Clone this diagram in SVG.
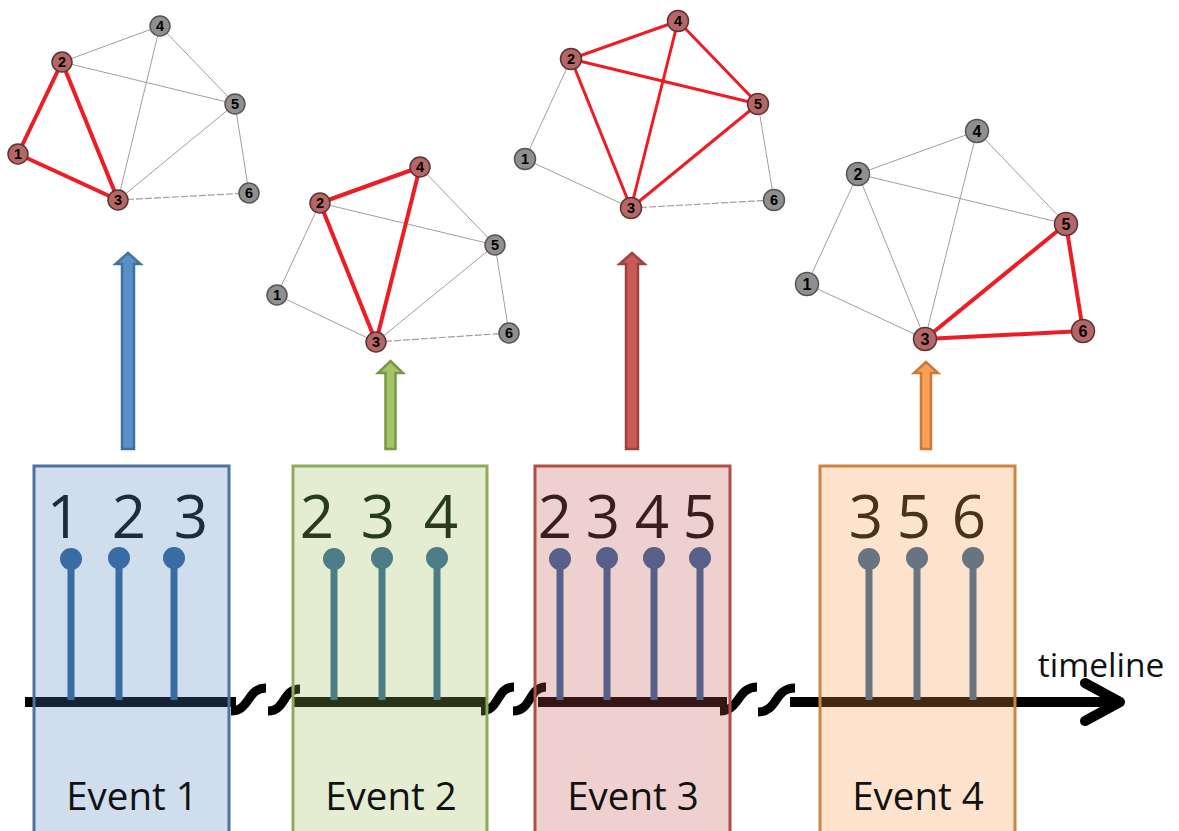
<svg xmlns="http://www.w3.org/2000/svg" width="1179" height="831" viewBox="0 0 1179 831">
<style>
.e{stroke:#a89a9c;stroke-width:1;fill:none}
.ed{stroke:#a89a9c;stroke-width:1.2;fill:none;stroke-dasharray:7 2}
.r{stroke:#ee1c24;stroke-width:4;fill:none;stroke-linecap:round}
.nr{fill:#b56767;stroke:#5a3434;stroke-width:1.5}
.ng{fill:#8f8f8f;stroke:#555;stroke-width:1.5}
.nl{font-family:"Liberation Sans",Arial,sans-serif;font-weight:bold;font-size:14.5px;fill:#000;text-anchor:middle}
.tl{stroke:#000;stroke-width:10;fill:none}
.sq{stroke:#000;stroke-width:9;fill:none}
.dig{font-family:"Open Sans",sans-serif;font-size:60px;text-anchor:middle}
.ev{font-family:"Open Sans",sans-serif;font-size:38.5px;fill:#111;text-anchor:middle}
</style>

<!-- Graph 1 -->
<g id="graph1">
<line class="e" x1="62" y1="62" x2="160" y2="26"/>
<line class="e" x1="62" y1="62" x2="235" y2="104"/>
<line class="e" x1="160" y1="26" x2="235" y2="104"/>
<line class="e" x1="160" y1="26" x2="118" y2="200"/>
<line class="e" x1="235" y1="104" x2="118" y2="200"/>
<line class="e" x1="235" y1="104" x2="249" y2="193"/>
<line class="ed" x1="118" y1="200" x2="249" y2="193"/>
<line class="r" x1="18" y1="154" x2="62" y2="62"/>
<line class="r" x1="62" y1="62" x2="118" y2="200"/>
<line class="r" x1="18" y1="154" x2="118" y2="200"/>
<circle class="ng" cx="160" cy="26" r="10"/><text class="nl" x="160" y="31">4</text>
<circle class="nr" cx="62" cy="62" r="10"/><text class="nl" x="62" y="67">2</text>
<circle class="ng" cx="235" cy="104" r="10"/><text class="nl" x="235" y="109">5</text>
<circle class="nr" cx="18" cy="154" r="10"/><text class="nl" x="18" y="159">1</text>
<circle class="nr" cx="118" cy="200" r="10"/><text class="nl" x="118" y="205">3</text>
<circle class="ng" cx="249" cy="193" r="10"/><text class="nl" x="249" y="198">6</text>
</g>

<!-- Graph 2 -->
<g id="graph2">
<line class="e" x1="320" y1="203" x2="495" y2="245"/>
<line class="e" x1="420" y1="167" x2="495" y2="245"/>
<line class="e" x1="320" y1="203" x2="277" y2="295"/>
<line class="e" x1="277" y1="295" x2="376" y2="342"/>
<line class="e" x1="495" y1="245" x2="376" y2="342"/>
<line class="e" x1="495" y1="245" x2="509" y2="333"/>
<line class="ed" x1="376" y1="342" x2="509" y2="333"/>
<line class="r" x1="320" y1="203" x2="420" y2="167"/>
<line class="r" x1="320" y1="203" x2="376" y2="342"/>
<line class="r" x1="420" y1="167" x2="376" y2="342"/>
<circle class="nr" cx="420" cy="167" r="10"/><text class="nl" x="420" y="172">4</text>
<circle class="nr" cx="320" cy="203" r="10"/><text class="nl" x="320" y="208">2</text>
<circle class="ng" cx="495" cy="245" r="10"/><text class="nl" x="495" y="250">5</text>
<circle class="ng" cx="277" cy="295" r="10"/><text class="nl" x="277" y="300">1</text>
<circle class="nr" cx="376" cy="342" r="10"/><text class="nl" x="376" y="347">3</text>
<circle class="ng" cx="509" cy="333" r="10"/><text class="nl" x="509" y="338">6</text>
</g>

<!-- Graph 3 -->
<g id="graph3">
<line class="e" x1="571" y1="59" x2="525" y2="159"/>
<line class="e" x1="525" y1="159" x2="631" y2="208"/>
<line class="e" x1="758" y1="104" x2="774" y2="200"/>
<line class="ed" x1="631" y1="208" x2="774" y2="200"/>
<line class="r" style="stroke-width:3" x1="571" y1="59" x2="678" y2="21"/>
<line class="r" style="stroke-width:3" x1="571" y1="59" x2="758" y2="104"/>
<line class="r" style="stroke-width:3" x1="571" y1="59" x2="631" y2="208"/>
<line class="r" style="stroke-width:3" x1="678" y1="21" x2="631" y2="208"/>
<line class="r" style="stroke-width:3" x1="678" y1="21" x2="758" y2="104"/>
<line class="r" style="stroke-width:3" x1="758" y1="104" x2="631" y2="208"/>
<circle class="nr" cx="678" cy="21" r="10.5"/><text class="nl" x="678" y="26">4</text>
<circle class="nr" cx="571" cy="59" r="10.5"/><text class="nl" x="571" y="64">2</text>
<circle class="nr" cx="758" cy="104" r="10.5"/><text class="nl" x="758" y="109">5</text>
<circle class="ng" cx="525" cy="159" r="10.5"/><text class="nl" x="525" y="164">1</text>
<circle class="nr" cx="631" cy="208" r="10.5"/><text class="nl" x="631" y="213">3</text>
<circle class="ng" cx="774" cy="200" r="10.5"/><text class="nl" x="774" y="205">6</text>
</g>

<!-- Graph 4 -->
<g id="graph4">
<line class="e" x1="858" y1="174" x2="977" y2="131"/>
<line class="e" x1="858" y1="174" x2="1066" y2="224"/>
<line class="e" x1="977" y1="131" x2="1066" y2="224"/>
<line class="e" x1="977" y1="131" x2="925" y2="339"/>
<line class="e" x1="858" y1="174" x2="807" y2="284"/>
<line class="e" x1="858" y1="174" x2="925" y2="339"/>
<line class="e" x1="807" y1="284" x2="925" y2="339"/>
<line class="r" x1="925" y1="339" x2="1066" y2="224"/>
<line class="r" x1="1066" y1="224" x2="1083" y2="331"/>
<line class="r" x1="925" y1="339" x2="1083" y2="331"/>
<circle class="ng" cx="977" cy="131" r="11.5"/><text class="nl" x="977" y="137" style="font-size:16px">4</text>
<circle class="ng" cx="858" cy="174" r="11.5"/><text class="nl" x="858" y="180" style="font-size:16px">2</text>
<circle class="nr" cx="1066" cy="224" r="11.5"/><text class="nl" x="1066" y="230" style="font-size:16px">5</text>
<circle class="ng" cx="807" cy="284" r="11.5"/><text class="nl" x="807" y="290" style="font-size:16px">1</text>
<circle class="nr" cx="925" cy="339" r="11.5"/><text class="nl" x="925" y="345" style="font-size:16px">3</text>
<circle class="nr" cx="1083" cy="331" r="11.5"/><text class="nl" x="1083" y="337" style="font-size:16px">6</text>
</g>

<!-- Connectors: block arrows, timeline -->
<g id="connectors">
<path d="M122 449 V264 H115.5 L128 253 L140.5 264 H134 V449 Z" fill="#5b8fcc" stroke="#41719c" stroke-width="2.5"/>
<path d="M385.5 449 V373 H378 L390.5 361 L403 373 H395.5 V449 Z" fill="#a5c468" stroke="#789845" stroke-width="2.5"/>
<path d="M626 449 V264 H619.5 L632 253 L644.5 264 H638 V449 Z" fill="#c85a57" stroke="#9a4340" stroke-width="2.5"/>
<path d="M921 449 V373 H914 L926 362 L938 373 H931 V449 Z" fill="#f9a055" stroke="#c97a3a" stroke-width="2.5"/>

<path class="tl" d="M25 702 H236"/>
<path class="sq" d="M231 711 C250 711 247 688 266 688"/>
<path class="sq" d="M268 711 C286 711 282 689 300 689"/>
<path class="tl" d="M292 702 H487"/>
<path class="sq" d="M481 711 C500 711 496 687 514 687"/>
<path class="sq" d="M513 711 C532 711 528 687 546 687"/>
<path class="tl" d="M538 702 H727"/>
<path class="sq" d="M720 711 C740 711 737 687 757 687"/>
<path class="sq" d="M758 712 C778 712 774 688 795 688"/>
<path class="tl" d="M790 702 H1118"/>
<polyline points="1085,683 1120,702 1085,721" fill="none" stroke="#000" stroke-width="10" stroke-linecap="round" stroke-linejoin="round"/>
</g>

<text x="1101" y="677" font-family="'Open Sans',sans-serif" font-size="33.5" fill="#111" text-anchor="middle">timeline</text>

<!-- Event boxes -->
<g id="event1">
<rect x="34" y="466" width="195" height="370" fill="#4f81bd" fill-opacity="0.27" stroke="#4d72a0" stroke-width="3"/>
<g fill="#1d2b3b" class="dig"><text x="64" y="538">1</text><text x="129" y="538">2</text><text x="191" y="538">3</text></g>
<g stroke="#386ca3" stroke-width="7" fill="#386ca3">
<line x1="71" y1="560" x2="71" y2="700"/><circle cx="71" cy="559" r="11" stroke="none"/>
<line x1="119" y1="560" x2="119" y2="700"/><circle cx="119" cy="558" r="11" stroke="none"/>
<line x1="174" y1="560" x2="174" y2="700"/><circle cx="174" cy="558" r="11" stroke="none"/>
</g>
<text class="ev" x="132" y="810">Event 1</text>
</g>

<g id="event2">
<rect x="293" y="466" width="194" height="370" fill="#9bbb59" fill-opacity="0.27" stroke="#8fab58" stroke-width="3"/>
<g fill="#2a3a1d" class="dig"><text x="317" y="538">2</text><text x="378" y="538">3</text><text x="441" y="538">4</text></g>
<g stroke="#4c7d86" stroke-width="7" fill="#4c7d86">
<line x1="334" y1="560" x2="334" y2="700"/><circle cx="334" cy="559" r="11" stroke="none"/>
<line x1="382" y1="560" x2="382" y2="700"/><circle cx="382" cy="558" r="11" stroke="none"/>
<line x1="437" y1="560" x2="437" y2="700"/><circle cx="437" cy="558" r="11" stroke="none"/>
</g>
<text class="ev" x="391" y="810">Event 2</text>
</g>

<g id="event3">
<rect x="535" y="466" width="195" height="370" fill="#c0504d" fill-opacity="0.27" stroke="#ae4f4c" stroke-width="3"/>
<g fill="#3a1e1e" class="dig"><text x="555" y="538">2</text><text x="603" y="538">3</text><text x="652" y="538">4</text><text x="700" y="538">5</text></g>
<g stroke="#585f88" stroke-width="7" fill="#585f88">
<line x1="560" y1="560" x2="560" y2="700"/><circle cx="560" cy="559" r="11" stroke="none"/>
<line x1="607" y1="560" x2="607" y2="700"/><circle cx="607" cy="558" r="11" stroke="none"/>
<line x1="654" y1="560" x2="654" y2="700"/><circle cx="654" cy="558" r="11" stroke="none"/>
<line x1="700" y1="560" x2="700" y2="700"/><circle cx="700" cy="558" r="11" stroke="none"/>
</g>
<text class="ev" x="633" y="810">Event 3</text>
</g>

<g id="event4">
<rect x="820" y="466" width="195" height="370" fill="#f79646" fill-opacity="0.27" stroke="#cb8442" stroke-width="3"/>
<g fill="#4a3119" class="dig"><text x="866" y="538">3</text><text x="914" y="538">5</text><text x="969" y="538">6</text></g>
<g stroke="#687580" stroke-width="7" fill="#687580">
<line x1="869" y1="560" x2="869" y2="700"/><circle cx="869" cy="559" r="11" stroke="none"/>
<line x1="917" y1="560" x2="917" y2="700"/><circle cx="917" cy="558" r="11" stroke="none"/>
<line x1="973" y1="560" x2="973" y2="700"/><circle cx="973" cy="558" r="11" stroke="none"/>
</g>
<text class="ev" x="918" y="810">Event 4</text>
</g>
</svg>
